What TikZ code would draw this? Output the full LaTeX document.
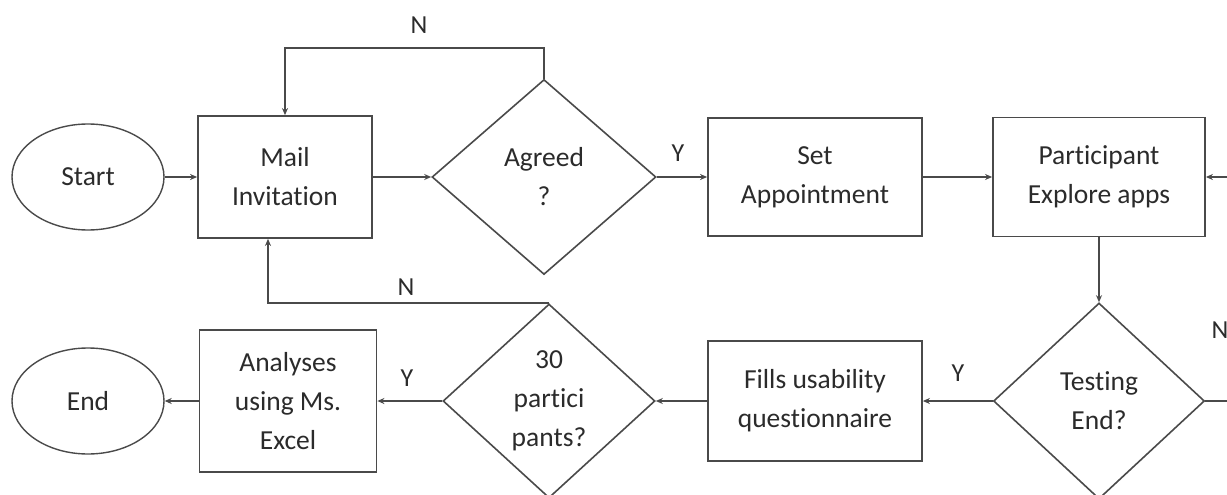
\documentclass[tikz,border=0pt]{standalone}
\usepackage{fontspec}
\setmainfont{Carlito}[Ligatures=NoCommon]
\usetikzlibrary{shapes.geometric,arrows.meta,calc}
\definecolor{ln}{HTML}{4A4A4A}
\definecolor{tx}{HTML}{2B2B2B}
\tikzset{
  every node/.style={text=tx, font=\fontsize{27.5}{39}\selectfont, align=center},
  boxnode/.style={draw=ln, line width=1.8pt, rectangle, inner sep=0pt},
  termnode/.style={draw=ln, line width=1.4pt, ellipse, inner sep=0pt, minimum width=152pt, minimum height=106pt},
  decnode/.style={draw=ln, line width=1.6pt, diamond, inner sep=0pt},
  conn/.style={draw=ln, line width=1.8pt, -{Stealth[length=7pt,width=6pt]}},
  lbl/.style={font=\fontsize{26}{30}\selectfont}
}
\begin{document}
\begin{tikzpicture}[x=1pt,y=-1pt]
\useasboundingbox (0,0) rectangle (1227,495);
\node[termnode] (start) at (88,177) {Start};
\node[boxnode, minimum width=174pt, minimum height=122pt] (mail) at (285,177) {Mail\\Invitation};
\node[decnode, minimum width=224pt, minimum height=195pt] (agreed) at (544,177) {Agreed\\?};
\node[boxnode, minimum width=214pt, minimum height=118pt] (set) at (815,177) {Set\\Appointment};
\node[boxnode, minimum width=212pt, minimum height=119pt] (part) at (1099,177) {Participant\\Explore apps};
\node[decnode, minimum width=211pt, minimum height=196pt] (test) at (1099,401) {Testing\\End?};
\node[boxnode, minimum width=214pt, minimum height=120pt] (fills) at (815,401) {Fills usability\\questionnaire};
\node[decnode, minimum width=212pt, minimum height=194pt] (thirty) at (549,401) {30\\partici\\pants?};
\node[boxnode, minimum width=177pt, minimum height=142pt] (anal) at (288,401) {Analyses\\using Ms.\\Excel};
\node[termnode] (end) at (88,401) {End};

\coordinate (rloop) at (1245,401);
\coordinate (mailin) at ($(mail.south)+(-17,0)$);

\draw[conn] (start) -- (mail);
\draw[conn] (mail.east) -- (agreed.west);
\draw[conn] (agreed.east) -- (set.west);
\draw[conn] (set.east) -- (part.west);
\draw[conn] (agreed.north) -- ++(0,-31) -| (mail.north);
\draw[conn] (part.south) -- (test.north);
\draw[conn] (test.west) -- (fills.east);
\draw[conn] (fills.west) -- (thirty.east);
\draw[conn] (thirty.west) -- (anal.east);
\draw[conn] (anal.west) -- (end.east);
\draw[conn] (thirty.north) -| (mailin);
\draw[conn] (test.east) -- (rloop) |- (part.east);

\node[lbl] at (419,25) {N};
\node[lbl] at (678,153) {Y};
\node[lbl] at (406,287) {N};
\node[lbl] at (958,373) {Y};
\node[lbl] at (407,378) {Y};
\node[lbl] at (1220,330) {N};
\end{tikzpicture}
\end{document}
